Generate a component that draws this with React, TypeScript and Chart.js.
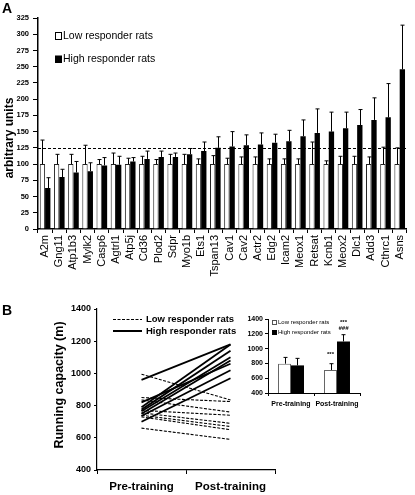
import React, { useEffect, useRef } from "react";
import { Chart, registerables } from "chart.js";
Chart.register(...registerables);

const FONT = "'Liberation Sans', Arial, Helvetica, sans-serif";

// ---------- Panel A data ----------
const genes = ["A2m", "Gng11", "Atp1b3", "Mylk2", "Casp6", "Agtrl1", "Atp5j", "Cd36", "Plod2", "Sdpr", "Myo1b", "Ets1", "Tspan13", "Cav1", "Cav2", "Actr2", "Edg2", "Icam2", "Meox1", "Retsat", "Kcnb1", "Meox2", "Dlc1", "Add3", "Cthrc1", "Asns"];
const lowValues = [100, 100, 100, 100, 100, 100, 100, 100, 100, 100, 100, 100, 100, 100, 100, 100, 100, 100, 100, 100, 100, 100, 100, 100, 100, 100];
const lowErr = [37, 15, 15, 29, 7, 17, 9, 12, 7, 15, 15, 8, 13, 9, 11, 11, 8, 8, 8, 34, 5, 12, 12, 11, 26, 25];
const highValues = [63, 80, 87, 89, 98, 99, 104, 108, 111, 111, 115, 120, 125, 127, 129, 130, 133, 135, 143, 148, 150, 155, 160, 168, 172, 246];
const highErr = [16, 12, 17, 13, 12, 13, 6, 12, 9, 6, 9, 14, 17, 23, 16, 18, 13, 17, 25, 37, 30, 25, 24, 34, 52, 68];
const thresholdA = 125;

// ---------- Panel B data ----------
const phases = ["Pre-training", "Post-training"];
const lowPre = [995, 850, 835, 770, 755, 740, 730, 660];
const lowPost = [835, 825, 760, 740, 690, 670, 650, 590];
const highPre = [960, 820, 790, 775, 765, 750, 735, 700];
const highPost = [1180, 1060, 1180, 1140, 1100, 1080, 1020, 970];

// inset means
const insetLow = [796, 711];
const insetLowErr = [85, 85];
const insetHigh = [773, 1097];
const insetHighErr = [95, 91];

const LOW_LABEL = "Low responder rats";
const HIGH_LABEL = "High responder rats";

const plainTick = (v: any) => String(v);

const errorBarPlugin = {
  id: "errorBars",
  afterDatasetsDraw(chart: any, _args: any, opts: any) {
    const ctx = chart.ctx;
    const y = chart.scales.y;
    const cap = (opts && opts.cap) || 2;
    ctx.save();
    ctx.strokeStyle = "#000";
    ctx.lineWidth = (opts && opts.width) || 1;
    chart.data.datasets.forEach((ds: any, di: number) => {
      if (!ds.errors) return;
      const meta = chart.getDatasetMeta(di);
      meta.data.forEach((el: any, i: number) => {
        const x = Math.round(el.x) + 0.5;
        const yTop = y.getPixelForValue(ds.data[i] + ds.errors[i]);
        const yb = y.getPixelForValue(ds.data[i]);
        ctx.beginPath();
        ctx.moveTo(x, yb);
        ctx.lineTo(x, yTop);
        ctx.moveTo(x - cap, yTop);
        ctx.lineTo(x + cap, yTop);
        ctx.stroke();
      });
    });
    ctx.restore();
  },
};

const extrasA = {
  id: "extrasA",
  afterDraw(chart: any) {
    const ctx = chart.ctx;
    const area = chart.chartArea;
    const y = chart.scales.y;
    ctx.save();
    const ty = Math.round(y.getPixelForValue(thresholdA)) + 0.5;
    ctx.setLineDash([3, 2]);
    ctx.strokeStyle = "#000";
    ctx.lineWidth = 1;
    ctx.beginPath();
    ctx.moveTo(area.left, ty);
    ctx.lineTo(area.right, ty);
    ctx.stroke();
    ctx.setLineDash([]);
    ctx.fillStyle = "#000";
    ctx.font = `bold 14px ${FONT}`;
    ctx.textBaseline = "alphabetic";
    ctx.textAlign = "left";
    ctx.fillText("A", 2, 13);
    ctx.save();
    ctx.translate(10, 138);
    ctx.rotate(-Math.PI / 2);
    ctx.font = `bold 12px ${FONT}`;
    ctx.textAlign = "center";
    ctx.textBaseline = "middle";
    ctx.fillText("arbitrary units", 0, 0);
    ctx.restore();
    ctx.lineWidth = 1;
    ctx.strokeStyle = "#000";
    ctx.fillStyle = "#fff";
    ctx.fillRect(55.5, 32.5, 6, 7);
    ctx.strokeRect(55.5, 32.5, 6, 7);
    ctx.fillStyle = "#000";
    ctx.fillRect(55, 55.5, 7, 7.5);
    ctx.font = `10.5px ${FONT}`;
    ctx.textBaseline = "middle";
    ctx.fillText(LOW_LABEL, 63, 36.5);
    ctx.fillText(HIGH_LABEL, 63, 59.5);
    ctx.restore();
  },
};

const extrasB = {
  id: "extrasB",
  afterDraw(chart: any) {
    const ctx = chart.ctx;
    ctx.save();
    ctx.fillStyle = "#000";
    ctx.font = `bold 14px ${FONT}`;
    ctx.textBaseline = "alphabetic";
    ctx.textAlign = "left";
    ctx.fillText("B", 2, 25);
    ctx.save();
    ctx.translate(60, 95);
    ctx.rotate(-Math.PI / 2);
    ctx.font = `bold 12.5px ${FONT}`;
    ctx.textAlign = "center";
    ctx.textBaseline = "middle";
    ctx.fillText("Running capacity (m)", 0, 0);
    ctx.restore();
    ctx.strokeStyle = "#000";
    ctx.lineWidth = 1;
    ctx.setLineDash([3, 1.5]);
    ctx.beginPath();
    ctx.moveTo(113, 29.5);
    ctx.lineTo(142, 29.5);
    ctx.stroke();
    ctx.setLineDash([]);
    ctx.lineWidth = 2;
    ctx.beginPath();
    ctx.moveTo(113, 41);
    ctx.lineTo(142, 41);
    ctx.stroke();
    ctx.font = `bold 9.5px ${FONT}`;
    ctx.textBaseline = "middle";
    ctx.fillText(LOW_LABEL, 146, 29.5);
    ctx.fillText(HIGH_LABEL, 146, 41);
    ctx.restore();
  },
};

const extrasC = {
  id: "extrasC",
  afterDraw(chart: any) {
    const ctx = chart.ctx;
    const y = chart.scales.y;
    ctx.save();
    ctx.lineWidth = 1;
    ctx.strokeStyle = "#555";
    ctx.fillStyle = "#fff";
    ctx.fillRect(37.5, 15.5, 4, 4);
    ctx.strokeRect(37.5, 15.5, 4, 4);
    ctx.fillStyle = "#000";
    ctx.fillRect(37, 25, 5, 5);
    ctx.font = `6px ${FONT}`;
    ctx.textBaseline = "middle";
    ctx.textAlign = "left";
    ctx.fillText(LOW_LABEL, 43, 17.5);
    ctx.fillText(HIGH_LABEL, 43, 27.5);
    const lowEl = chart.getDatasetMeta(0).data[1];
    const highEl = chart.getDatasetMeta(1).data[1];
    ctx.font = `bold 6px ${FONT}`;
    ctx.textAlign = "center";
    const lowCap = y.getPixelForValue(insetLow[1] + insetLowErr[1]);
    const highCap = y.getPixelForValue(insetHigh[1] + insetHighErr[1]);
    ctx.fillText("***", lowEl.x, lowCap - 9);
    ctx.fillText("***", highEl.x, highCap - 12);
    ctx.font = `italic bold 6px ${FONT}`;
    ctx.fillText("###", highEl.x, highCap - 6);
    ctx.restore();
  },
};

export default function App() {
  const refA = useRef<HTMLCanvasElement>(null);
  const refB = useRef<HTMLCanvasElement>(null);
  const refC = useRef<HTMLCanvasElement>(null);

  useEffect(() => {
    const charts: Chart[] = [];

    charts.push(
      new Chart(refA.current as HTMLCanvasElement, {
        type: "bar",
        data: {
          labels: genes,
          datasets: [
            {
              label: LOW_LABEL,
              data: lowValues,
              backgroundColor: "#fff",
              borderColor: "#222",
              borderWidth: 1,
              categoryPercentage: 0.75,
              barPercentage: 1,
              errors: lowErr,
            } as any,
            {
              label: HIGH_LABEL,
              data: highValues,
              backgroundColor: "#000",
              borderColor: "#000",
              borderWidth: 0,
              categoryPercentage: 0.75,
              barPercentage: 1,
              errors: highErr,
            } as any,
          ],
        },
        options: {
          animation: false,
          responsive: false,
          layout: { padding: { top: 18, right: 5, left: 0, bottom: 0 } },
          plugins: {
            legend: { display: false },
            tooltip: { enabled: false },
            errorBars: { cap: 2, width: 1 },
          } as any,
          scales: {
            x: {
              grid: { display: true, drawOnChartArea: false, drawTicks: true, tickLength: 4, color: "#000", offset: true },
              border: { color: "#000", width: 1.5 },
              ticks: { minRotation: 90, maxRotation: 90, autoSkip: false, padding: 2, color: "#000", font: { family: FONT, size: 11 } },
              afterFit: (s: any) => { s.height = 56; },
            },
            y: {
              min: 0,
              max: 325,
              ticks: { stepSize: 25, color: "#000", padding: 4, callback: plainTick, font: { family: FONT, size: 7.5, weight: "bold" } },
              grid: { drawOnChartArea: false, tickLength: 5, color: "#000" },
              border: { color: "#000", width: 1.5 },
              afterFit: (s: any) => { s.width = 38; },
            },
          },
        },
        plugins: [errorBarPlugin, extrasA],
      })
    );

    const lineSets: any[] = [];
    lowPre.forEach((v, i) => {
      lineSets.push({
        label: LOW_LABEL,
        data: [v, lowPost[i]],
        borderColor: "#000",
        borderWidth: 1.1,
        borderDash: [3, 1.5],
        pointRadius: 0,
        fill: false,
      });
    });
    highPre.forEach((v, i) => {
      lineSets.push({
        label: HIGH_LABEL,
        data: [v, highPost[i]],
        borderColor: "#000",
        borderWidth: 1.8,
        pointRadius: 0,
        fill: false,
      });
    });
    charts.push(
      new Chart(refB.current as HTMLCanvasElement, {
        type: "line",
        data: { labels: phases, datasets: lineSets },
        options: {
          animation: false,
          responsive: false,
          layout: { padding: { top: 19, right: 5, left: 0, bottom: 0 } },
          plugins: { legend: { display: false }, tooltip: { enabled: false } },
          scales: {
            x: {
              offset: true,
              grid: { drawOnChartArea: false, offset: true, tickLength: 4, color: "#000" },
              border: { color: "#000", width: 1.2 },
              ticks: { color: "#000", padding: 6, maxRotation: 0, minRotation: 0, autoSkip: false, font: { family: FONT, size: 11.5, weight: "bold" } },
              afterFit: (s: any) => { s.height = 25; },
            },
            y: {
              min: 400,
              max: 1400,
              ticks: { stepSize: 200, color: "#000", padding: 3, callback: plainTick, font: { family: FONT, size: 9, weight: "bold" } },
              grid: { drawOnChartArea: false, tickLength: 3, color: "#000" },
              border: { color: "#000", width: 1.2 },
              afterFit: (s: any) => { s.width = 97; },
            },
          },
        },
        plugins: [extrasB],
      })
    );

    charts.push(
      new Chart(refC.current as HTMLCanvasElement, {
        type: "bar",
        data: {
          labels: phases,
          datasets: [
            {
              label: LOW_LABEL,
              data: insetLow,
              backgroundColor: "#fff",
              borderColor: "#666",
              borderWidth: 1,
              categoryPercentage: 0.565,
              barPercentage: 1,
              errors: insetLowErr,
            } as any,
            {
              label: HIGH_LABEL,
              data: insetHigh,
              backgroundColor: "#000",
              borderWidth: 0,
              categoryPercentage: 0.565,
              barPercentage: 1,
              errors: insetHighErr,
            } as any,
          ],
        },
        options: {
          animation: false,
          responsive: false,
          layout: { padding: { top: 14, right: 10, left: 0, bottom: 0 } },
          plugins: {
            legend: { display: false },
            tooltip: { enabled: false },
            errorBars: { cap: 2, width: 1 },
          } as any,
          scales: {
            x: {
              grid: { drawOnChartArea: false, offset: true, tickLength: 3, color: "#000" },
              border: { color: "#000", width: 1 },
              ticks: { color: "#000", padding: 4, maxRotation: 0, minRotation: 0, autoSkip: false, font: { family: FONT, size: 7, weight: "bold" } },
              afterFit: (s: any) => { s.height = 22; },
            },
            y: {
              min: 400,
              max: 1400,
              ticks: { stepSize: 200, color: "#000", padding: 2, callback: plainTick, font: { family: FONT, size: 7, weight: "bold" } },
              grid: { drawOnChartArea: false, tickLength: 3, color: "#000" },
              border: { color: "#000", width: 1 },
              afterFit: (s: any) => { s.width = 33; },
            },
          },
        },
        plugins: [errorBarPlugin, extrasC],
      })
    );

    return () => charts.forEach((c) => c.destroy());
  }, []);

  return (
    <div style={{ position: "absolute", left: 0, top: 0, width: 415, height: 495, background: "#fff", overflow: "hidden" }}>
      <canvas ref={refA} width={415} height={285} style={{ position: "absolute", left: 0, top: 0 }} />
      <canvas ref={refB} width={280} height={205} style={{ position: "absolute", left: 0, top: 290 }} />
      <canvas ref={refC} width={135} height={110} style={{ position: "absolute", left: 235, top: 305 }} />
    </div>
  );
}
